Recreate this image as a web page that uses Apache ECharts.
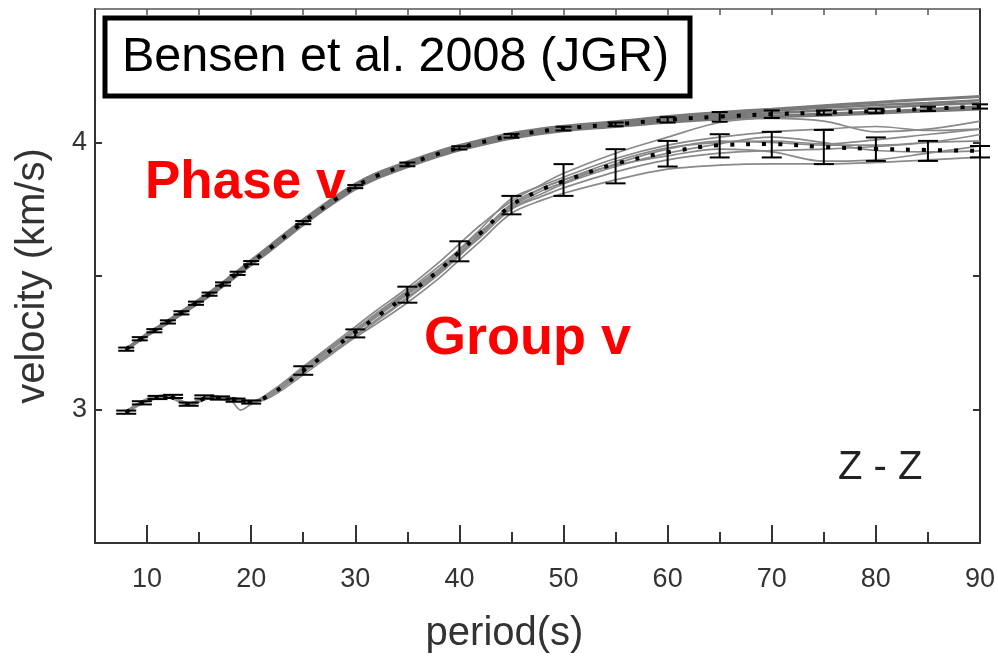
<!DOCTYPE html>
<html>
<head>
<meta charset="utf-8">
<script src="https://cdn.jsdelivr.net/npm/echarts@6/dist/echarts.min.js"></script>
<style>html,body{margin:0;padding:0;background:#fff;}#c{width:998px;height:659px;}</style>
</head>
<body>
<div id="c"></div>
<script>
// ---- data ----
var xTickLabels = [10, 20, 30, 40, 50, 60, 70, 80, 90];
var xMinorTicks = [15, 25, 35, 45, 55, 65, 75, 85];
var xTopTicks = [10, 15, 20, 25, 30, 35, 40, 45, 50, 55, 60, 65, 70, 75, 80, 85];
var yTickLabels = [3, 4];
var yTicks = [3, 3.5, 4];

// group velocity: periods, mean and individual measurements
var groupPeriods = [8, 10, 12, 14, 16, 18, 19, 20, 22, 25, 28, 30, 32, 35, 38, 40, 42, 45, 48, 50, 55, 60, 65, 70, 75, 80, 85, 90];
var groupMean = [2.99, 3.035, 3.048, 3.02, 3.045, 3.04, 3.035, 3.028, 3.06, 3.145, 3.232, 3.29, 3.345, 3.43, 3.52, 3.59, 3.66, 3.765, 3.825, 3.855, 3.92, 3.963, 3.99, 3.994, 3.983, 3.976, 3.972, 3.969];
var group1 = [2.995, 3.04, 3.055, 3.025, 3.05, 3.045, 3.04, 3.03, 3.07, 3.16, 3.25, 3.31, 3.37, 3.455, 3.55, 3.62, 3.69, 3.78, 3.845, 3.885, 3.96, 4.02, 4.075, 4.09, 4.08, 4.04, 4.05, 4.08];
var group2 = [2.985, 3.03, 3.045, 3.015, 3.04, 3.035, 3.03, 3.025, 3.05, 3.13, 3.215, 3.27, 3.32, 3.40, 3.49, 3.56, 3.63, 3.735, 3.785, 3.81, 3.86, 3.90, 3.915, 3.92, 3.92, 3.925, 3.935, 3.945];
var group3 = [2.99, 3.035, 3.05, 3.02, 3.05, 3.035, 2.998, 3.02, 3.055, 3.14, 3.225, 3.28, 3.335, 3.42, 3.51, 3.58, 3.645, 3.75, 3.80, 3.83, 3.89, 3.935, 3.96, 3.97, 3.975, 3.985, 4.0, 4.03];
var group4 = [2.99, 3.04, 3.05, 3.022, 3.045, 3.042, 3.036, 3.03, 3.065, 3.155, 3.245, 3.30, 3.36, 3.445, 3.535, 3.60, 3.675, 3.79, 3.84, 3.87, 3.94, 3.99, 4.02, 4.04, 4.05, 4.06, 4.045, 4.05];
var group5 = [2.988, 3.032, 3.045, 3.018, 3.042, 3.038, 3.033, 3.026, 3.058, 3.145, 3.235, 3.295, 3.35, 3.435, 3.52, 3.585, 3.655, 3.76, 3.82, 3.85, 3.92, 3.975, 4.005, 4.0, 3.99, 3.99, 4.0, 4.006];
var group6 = [2.992, 3.036, 3.05, 3.02, 3.046, 3.04, 3.035, 3.028, 3.06, 3.14, 3.22, 3.275, 3.33, 3.415, 3.505, 3.575, 3.65, 3.765, 3.83, 3.86, 3.915, 3.95, 3.975, 3.965, 3.93, 3.935, 3.96, 3.987];
var group7 = [2.99, 3.034, 3.048, 3.02, 3.044, 3.04, 3.036, 3.03, 3.062, 3.15, 3.24, 3.30, 3.355, 3.44, 3.525, 3.595, 3.665, 3.755, 3.81, 3.845, 3.91, 3.96, 3.995, 4.02, 4.0, 3.97, 3.965, 3.969];
var group8 = [2.99, 3.036, 3.046, 3.02, 3.045, 3.04, 3.034, 3.027, 3.06, 3.148, 3.235, 3.29, 3.345, 3.43, 3.515, 3.585, 3.66, 3.77, 3.83, 3.86, 3.93, 3.98, 4.0, 4.005, 3.995, 4.01, 4.03, 4.05];

// phase velocity: periods, mean and individual measurements
var phasePeriods = [8, 10, 12, 14, 16, 18, 20, 22, 24, 26, 28, 30, 32, 35, 38, 40, 45, 50, 55, 60, 65, 70, 75, 80, 85, 90];
var phaseMean = [3.226, 3.28, 3.328, 3.38, 3.432, 3.49, 3.55, 3.61, 3.672, 3.73, 3.785, 3.835, 3.874, 3.918, 3.958, 3.98, 4.025, 4.052, 4.068, 4.085, 4.097, 4.106, 4.112, 4.118, 4.126, 4.135];
var phase1 = [3.227, 3.283, 3.332, 3.385, 3.438, 3.497, 3.558, 3.619, 3.681, 3.739, 3.794, 3.844, 3.883, 3.927, 3.967, 3.989, 4.034, 4.061, 4.078, 4.097, 4.112, 4.125, 4.138, 4.15, 4.162, 4.172];
var phase2 = [3.224, 3.277, 3.324, 3.375, 3.426, 3.483, 3.542, 3.601, 3.663, 3.721, 3.776, 3.826, 3.865, 3.909, 3.949, 3.972, 4.016, 4.044, 4.06, 4.076, 4.088, 4.096, 4.102, 4.11, 4.118, 4.125];
var phase3 = [3.227, 3.282, 3.33, 3.383, 3.435, 3.493, 3.554, 3.614, 3.676, 3.734, 3.789, 3.839, 3.878, 3.922, 3.962, 3.984, 4.029, 4.056, 4.073, 4.091, 4.104, 4.118, 4.13, 4.14, 4.148, 4.158];
var phase4 = [3.225, 3.278, 3.326, 3.377, 3.429, 3.487, 3.546, 3.606, 3.668, 3.726, 3.781, 3.831, 3.87, 3.914, 3.954, 3.976, 4.021, 4.048, 4.064, 4.08, 4.092, 4.1, 4.108, 4.115, 4.125, 4.135];
var phase5 = [3.226, 3.28, 3.328, 3.38, 3.432, 3.49, 3.55, 3.61, 3.672, 3.73, 3.785, 3.835, 3.874, 3.918, 3.958, 3.98, 4.025, 4.052, 4.068, 4.085, 4.098, 4.11, 4.12, 4.13, 4.14, 4.148];

// error bars
var phaseErrP  = [8, 9.3, 10.7, 12, 13.3, 14.7, 16, 17.3, 18.7, 20, 25, 30, 35, 40, 45, 50, 55, 60, 65, 70, 75, 80, 85, 90];
var phaseErrLo = [3.22, 3.259, 3.289, 3.322, 3.356, 3.392, 3.426, 3.464, 3.504, 3.544, 3.694, 3.829, 3.911, 3.974, 4.018, 4.045, 4.061, 4.075, 4.078, 4.092, 4.104, 4.11, 4.118, 4.127];
var phaseErrHi = [3.232, 3.271, 3.301, 3.334, 3.368, 3.404, 3.438, 3.476, 3.516, 3.556, 3.706, 3.841, 3.925, 3.986, 4.032, 4.059, 4.075, 4.095, 4.114, 4.12, 4.12, 4.126, 4.134, 4.143];
var groupErrP  = [8, 9.5, 11, 12.5, 14, 15.5, 17, 18.5, 20, 25, 30, 35, 40, 45, 50, 55, 60, 65, 70, 75, 80, 85, 90];
var groupErrLo = [2.984, 3.019, 3.039, 3.043, 3.014, 3.041, 3.037, 3.029, 3.022, 3.13, 3.27, 3.40, 3.555, 3.731, 3.80, 3.847, 3.91, 3.944, 3.944, 3.919, 3.931, 3.931, 3.944];
var groupErrHi = [2.996, 3.031, 3.051, 3.055, 3.026, 3.053, 3.049, 3.041, 3.034, 3.162, 3.30, 3.46, 3.63, 3.80, 3.919, 3.975, 4.006, 4.031, 4.04, 4.047, 4.019, 4.006, 3.987];

// ---- chart ----
var FONT = '"Liberation Sans", Arial, Helvetica, sans-serif';
var chart = echarts.init(document.getElementById('c'), null, {renderer: 'canvas'});

function pairs(xs, ys) { return xs.map(function (x, i) { return [x, ys[i]]; }); }
function triples(xs, lo, hi) { return xs.map(function (x, i) { return [x, lo[i], hi[i]]; }); }

function grayLine(name, xs, ys, w, col) {
  return {
    name: name, type: 'line', data: pairs(xs, ys), smooth: 0.35, symbol: 'none',
    lineStyle: {color: col, width: w}, z: 2, silent: true, animation: false
  };
}
function meanLine(name, xs, ys) {
  return {
    name: name, type: 'line', data: pairs(xs, ys), smooth: 0.35, symbol: 'none',
    lineStyle: {color: '#000', width: 4, type: [4, 12], cap: 'butt'}, z: 4, silent: true, animation: false
  };
}
function errBars(name, xs, lo, hi, hw) {
  return {
    name: name, type: 'custom', data: triples(xs, lo, hi), z: 5, silent: true, animation: false,
    encode: {x: 0, y: [1, 2]},
    renderItem: function (params, api) {
      var a = api.coord([api.value(0), api.value(1)]);
      var b = api.coord([api.value(0), api.value(2)]);
      var st = {stroke: '#000', lineWidth: 2};
      return {
        type: 'group', children: [
          {type: 'line', shape: {x1: a[0], y1: a[1], x2: b[0], y2: b[1]}, style: st},
          {type: 'line', shape: {x1: a[0] - hw, y1: a[1], x2: a[0] + hw, y2: a[1]}, style: st},
          {type: 'line', shape: {x1: b[0] - hw, y1: b[1], x2: b[0] + hw, y2: b[1]}, style: st}
        ]
      };
    }
  };
}

var axisCol = '#333';
var option = {
  backgroundColor: '#fff',
  animation: false,
  grid: {left: 95, right: 14, top: 9, bottom: 116, containLabel: false},
  xAxis: [
    {
      type: 'value', min: 5, max: 90, position: 'bottom',
      axisLine: {show: true, lineStyle: {color: axisCol, width: 2}},
      axisTick: {show: true, inside: true, length: 18, customValues: xTickLabels, lineStyle: {color: axisCol, width: 2}},
      axisLabel: {customValues: xTickLabels, margin: 23, fontSize: 27, color: '#333', fontFamily: FONT},
      splitLine: {show: false},
      name: 'period(s)', nameLocation: 'middle', nameGap: 71,
      nameTextStyle: {fontSize: 40, color: '#333', fontFamily: FONT, padding: [0, 66, 0, 0]}
    },
    {
      type: 'value', min: 5, max: 90, position: 'bottom',
      axisLine: {show: false},
      axisTick: {show: true, inside: true, length: 11, customValues: xMinorTicks, lineStyle: {color: axisCol, width: 2}},
      axisLabel: {show: false}, splitLine: {show: false}
    },
    {
      type: 'value', min: 5, max: 90, position: 'top',
      axisLine: {show: true, lineStyle: {color: '#555', width: 1.5}},
      axisTick: {show: true, inside: true, length: 6, customValues: xTopTicks, lineStyle: {color: '#555', width: 1.5}},
      axisLabel: {show: false}, splitLine: {show: false}
    }
  ],
  yAxis: [
    {
      type: 'value', min: 2.5, max: 4.5, position: 'left',
      axisLine: {show: true, lineStyle: {color: axisCol, width: 2}},
      axisTick: {show: true, inside: true, length: 7, customValues: yTicks, lineStyle: {color: axisCol, width: 2}},
      axisLabel: {customValues: yTickLabels, margin: 8, fontSize: 27, color: '#333', fontFamily: FONT},
      splitLine: {show: false},
      name: 'velocity (km/s)', nameLocation: 'middle', nameGap: 42, nameRotate: 90,
      nameTextStyle: {fontSize: 40, color: '#333', fontFamily: FONT}
    },
    {
      type: 'value', min: 2.5, max: 4.5, position: 'right',
      axisLine: {show: true, lineStyle: {color: axisCol, width: 2}},
      axisTick: {show: true, inside: true, length: 7, customValues: yTicks, lineStyle: {color: axisCol, width: 2}},
      axisLabel: {show: false}, splitLine: {show: false}
    }
  ],
  series: [
    grayLine('p1', phasePeriods, phase1, 3, '#7a7a7a'),
    grayLine('p2', phasePeriods, phase2, 3, '#7a7a7a'),
    grayLine('p3', phasePeriods, phase3, 2.5, '#7a7a7a'),
    grayLine('p4', phasePeriods, phase4, 2.5, '#7a7a7a'),
    grayLine('p5', phasePeriods, phase5, 2.5, '#7a7a7a'),
    grayLine('g1', groupPeriods, group1, 1.7, '#8a8a8a'),
    grayLine('g2', groupPeriods, group2, 1.7, '#8a8a8a'),
    grayLine('g3', groupPeriods, group3, 1.7, '#8a8a8a'),
    grayLine('g4', groupPeriods, group4, 1.7, '#8a8a8a'),
    grayLine('g5', groupPeriods, group5, 1.7, '#8a8a8a'),
    grayLine('g6', groupPeriods, group6, 1.7, '#8a8a8a'),
    grayLine('g7', groupPeriods, group7, 1.7, '#8a8a8a'),
    grayLine('g8', groupPeriods, group8, 1.7, '#8a8a8a'),
    meanLine('phaseMean', phasePeriods, phaseMean),
    meanLine('groupMean', groupPeriods, groupMean),
    errBars('phaseErr', phaseErrP, phaseErrLo, phaseErrHi, 8),
    errBars('groupErr', groupErrP, groupErrLo, groupErrHi, 10)
  ],
  graphic: [
    {type: 'rect', shape: {x: 105, y: 18, width: 585, height: 78}, style: {fill: '#fff', stroke: '#000', lineWidth: 5}, z: 100},
    {type: 'text', x: 122, y: 58, z: 101, style: {text: 'Bensen et al. 2008 (JGR)', fontSize: 48.5, fontFamily: FONT, fill: '#000', align: 'left', verticalAlign: 'middle'}},
    {type: 'text', x: 145, y: 183, z: 101, style: {text: 'Phase v', fontSize: 53, fontWeight: 'bold', fontFamily: FONT, fill: '#ff0000', align: 'left', verticalAlign: 'middle'}},
    {type: 'text', x: 424, y: 339, z: 101, style: {text: 'Group v', fontSize: 54, fontWeight: 'bold', fontFamily: FONT, fill: '#ff0000', align: 'left', verticalAlign: 'middle'}},
    {type: 'text', x: 838, y: 468, z: 101, style: {text: 'Z - Z', fontSize: 40, fontFamily: FONT, fill: '#222', align: 'left', verticalAlign: 'middle'}}
  ]
};
chart.setOption(option);
</script>
</body>
</html>
